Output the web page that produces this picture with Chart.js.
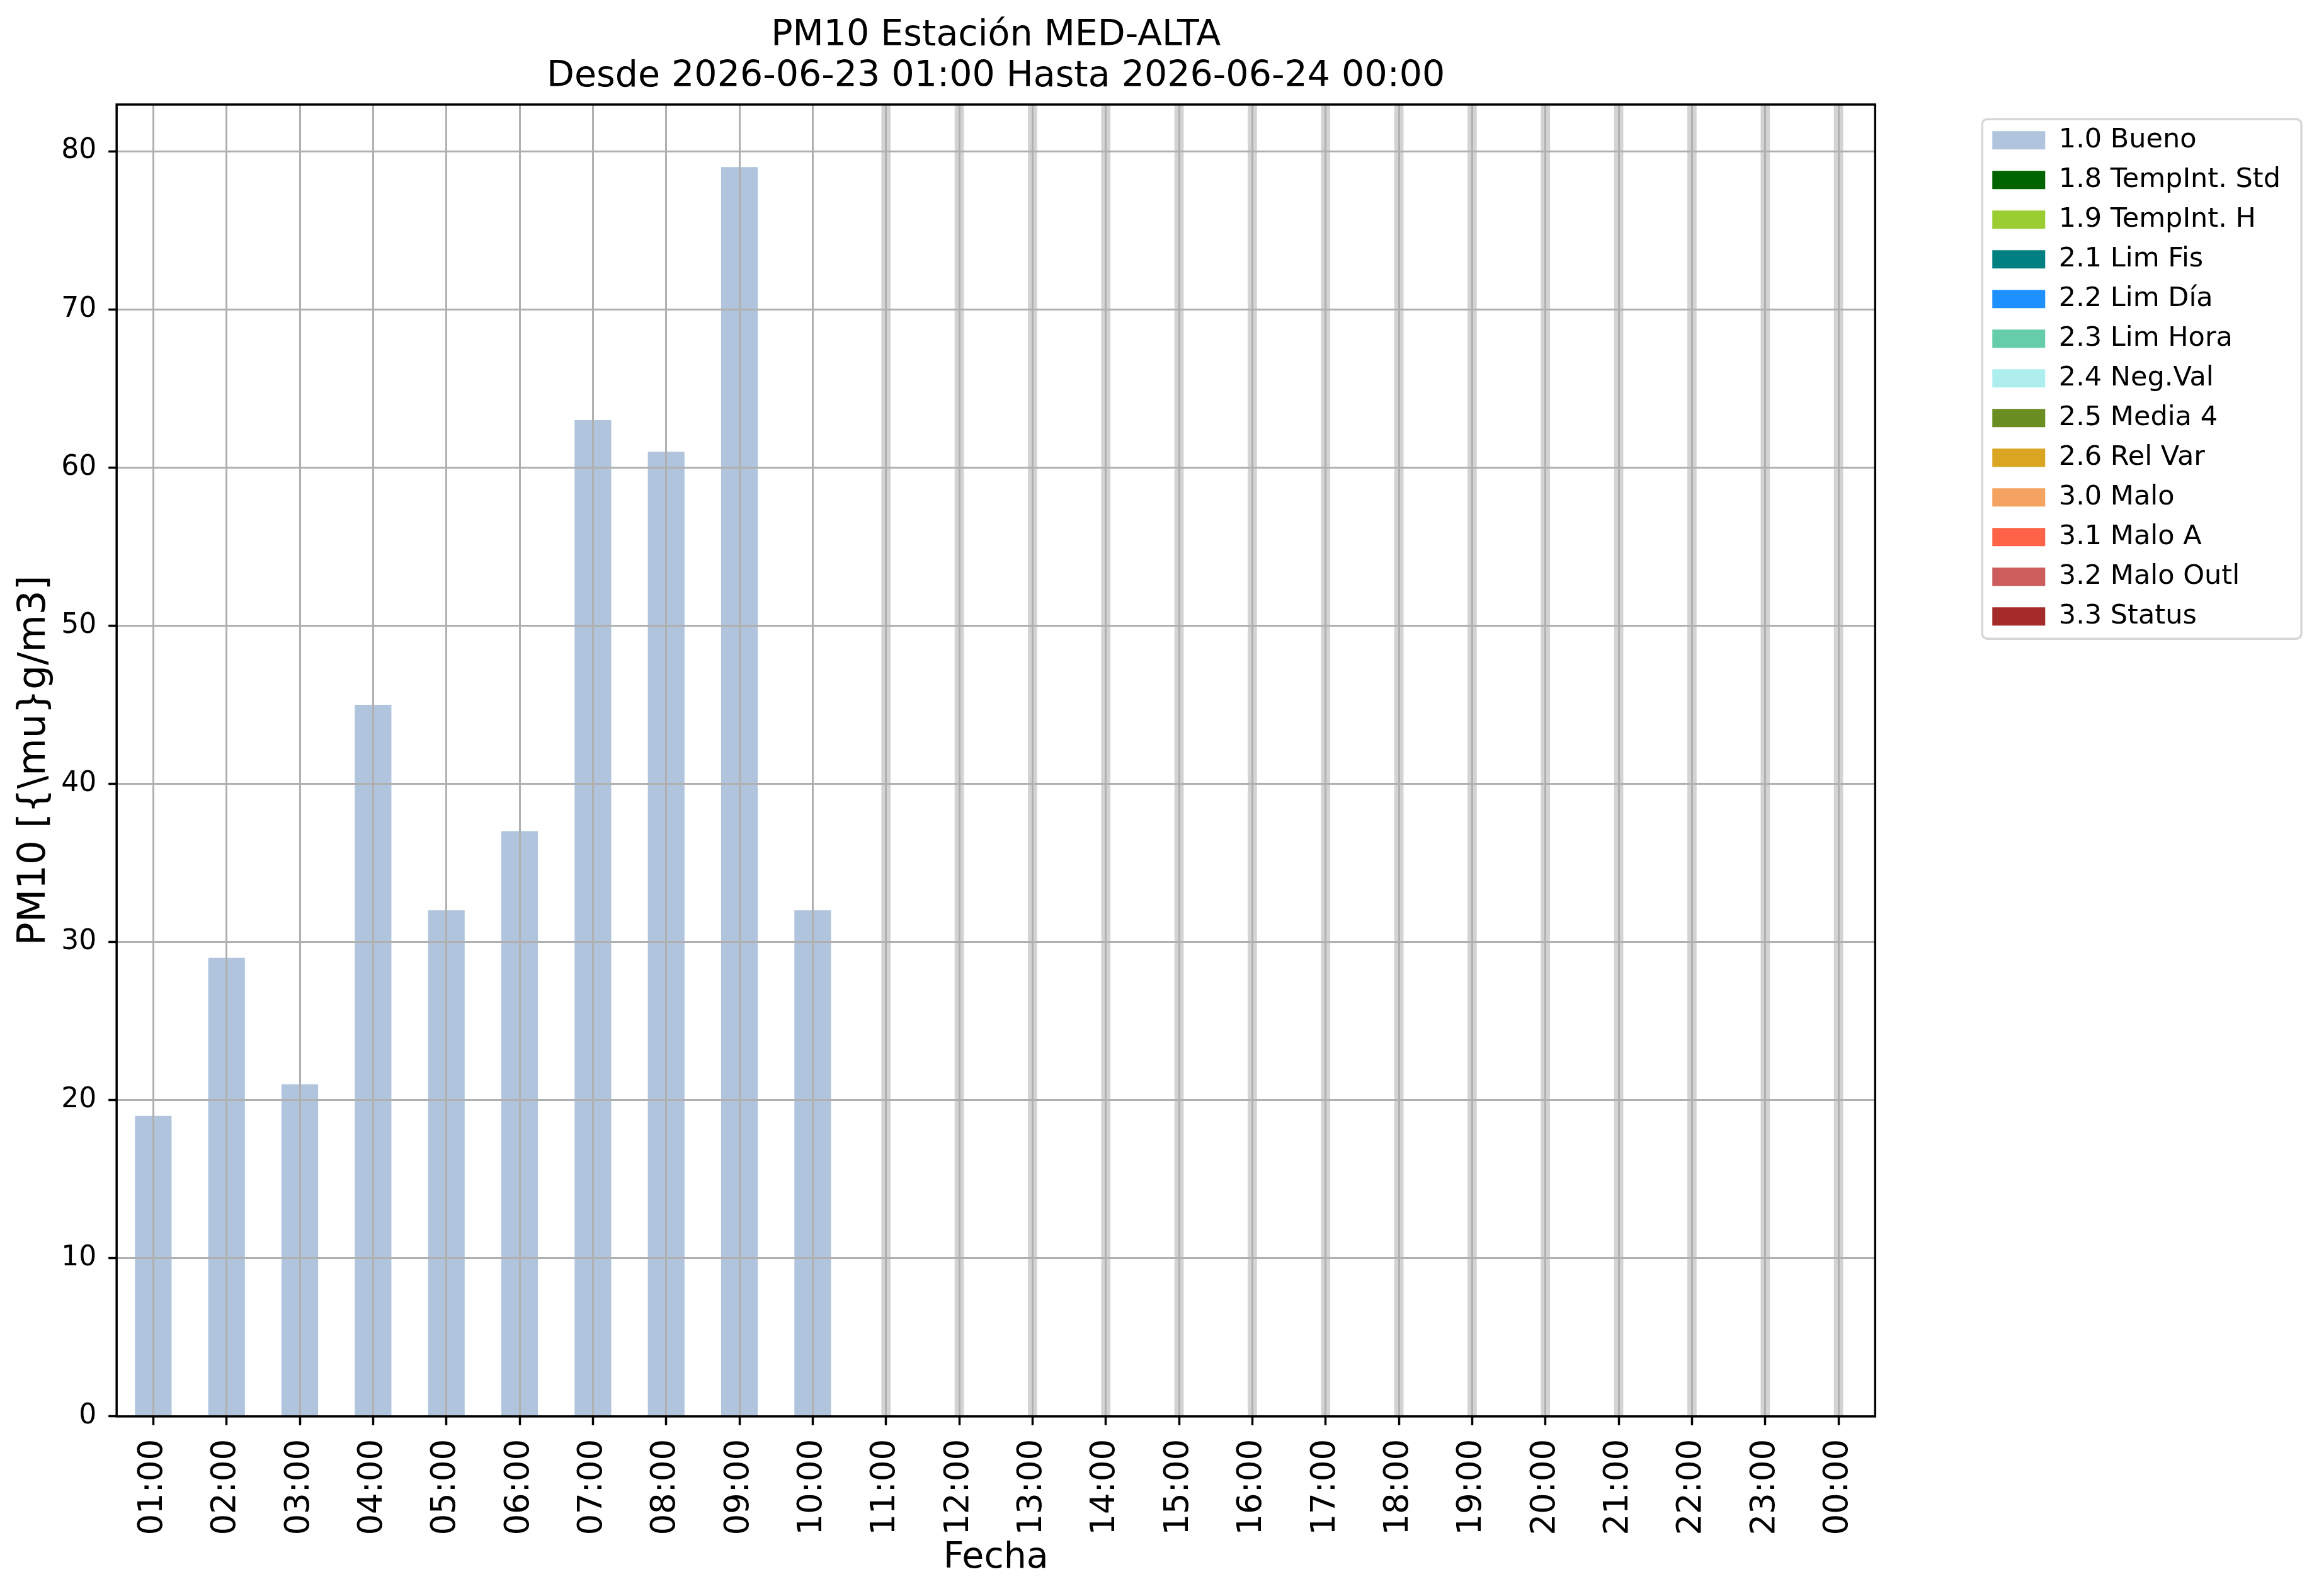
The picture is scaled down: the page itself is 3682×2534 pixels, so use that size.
<!DOCTYPE html>
<html lang="es">
<head>
<meta charset="utf-8">
<title>PM10 Estación MED-ALTA</title>
<script src="https://cdn.jsdelivr.net/npm/chart.js@4.4.1/dist/chart.umd.min.js"></script>
<style>
    body { margin: 0; background: #ffffff; }
    canvas { display: block; }
</style>
</head>
<body>
<canvas id="graficoPM10" width="3682" height="2534"></canvas>
<script>
// Datos del gráfico
const horas = ['01:00', '02:00', '03:00', '04:00', '05:00', '06:00', '07:00', '08:00', '09:00', '10:00', '11:00', '12:00',
    '13:00', '14:00', '15:00', '16:00', '17:00', '18:00', '19:00', '20:00', '21:00', '22:00', '23:00', '00:00'];

// Valores PM10 (flag 1.0 Bueno); las horas sin dato van en null
const valoresBueno = [19, 29, 21, 45, 32, 37, 63, 61, 79, 32, null, null,
    null, null, null, null, null, null, null, null, null, null, null, null];

// Etiquetas y colores de los flags
const flags = ['1.0 Bueno', '1.8 TempInt. Std', '1.9 TempInt. H', '2.1 Lim Fis', '2.2 Lim Día', '2.3 Lim Hora',
    '2.4 Neg.Val', '2.5 Media 4', '2.6 Rel Var', '3.0 Malo', '3.1 Malo A', '3.2 Malo Outl', '3.3 Status'];
const coloresFlags = ['#B0C4DE', '#006400', '#9ACD32', '#008080', '#1E90FF', '#66CDAA',
    '#AFEEEE', '#6B8E23', '#DAA520', '#F4A460', '#FF6347', '#CD5C5C', '#A52A2A'];

const ticksY = [0, 10, 20, 30, 40, 50, 60, 70, 80];
const maxY = 82.95;

const titulo = ['PM10 Estación MED-ALTA', 'Desde 2026-06-23 01:00 Hasta 2026-06-24 00:00'];

const fuente = 'DejaVu Sans';

// Solo el primer flag tiene datos, los demás quedan vacíos (solo leyenda)
const datasets = flags.map((flag, i) => ({
    label: flag,
    data: i === 0 ? valoresBueno : horas.map(() => null),
    backgroundColor: coloresFlags[i],
    borderWidth: 0,
    grouped: false,
    categoryPercentage: 1.0,
    barPercentage: 0.5
}));

// Franjas grises en las horas sin dato
const franjasSinDato = {
    id: 'franjasSinDato',
    beforeDatasetsDraw(chart) {
        const { ctx, chartArea, scales } = chart;
        const ancho = (scales.x.getPixelForValue(1) - scales.x.getPixelForValue(0)) * 0.126;
        ctx.save();
        ctx.fillStyle = '#d3d3d3';
        valoresBueno.forEach((v, i) => {
            if (v === null) {
                const x = scales.x.getPixelForValue(i);
                ctx.fillRect(x - ancho / 2, chartArea.top, ancho, chartArea.bottom - chartArea.top);
            }
        });
        ctx.restore();
    }
};

// Marco del área de gráfico y caja de la leyenda
const marcos = {
    id: 'marcos',
    afterDraw(chart) {
        const { ctx, chartArea } = chart;
        ctx.save();
        ctx.strokeStyle = '#000000';
        ctx.lineWidth = 3.5;
        ctx.strokeRect(chartArea.left, chartArea.top, chartArea.right - chartArea.left, chartArea.bottom - chartArea.top);

        const cajas = chart.legend.legendHitBoxes;
        if (cajas && cajas.length) {
            const izq = Math.min(...cajas.map(c => c.left)) - 16;
            const der = Math.max(...cajas.map(c => c.left + c.width)) + 33;
            const arriba = Math.min(...cajas.map(c => c.top)) - 12;
            const abajo = Math.max(...cajas.map(c => c.top + c.height)) + 14;
            ctx.strokeStyle = '#d6d6d6';
            ctx.lineWidth = 3.5;
            ctx.beginPath();
            ctx.roundRect(izq, arriba, der - izq, abajo - arriba, 8);
            ctx.stroke();
        }
        ctx.restore();
    }
};

const config = {
    type: 'bar',
    data: {
        labels: horas,
        datasets: datasets
    },
    options: {
        responsive: false,
        animation: false,
        devicePixelRatio: 1,
        layout: {
            padding: { top: 0, right: 51, bottom: 0, left: 0 }
        },
        plugins: {
            title: {
                display: true,
                text: titulo,
                fullSize: false,
                color: '#000000',
                font: { family: fuente, size: 57, weight: 'normal', lineHeight: 1.14 },
                padding: { top: 25, bottom: 11 }
            },
            legend: {
                display: true,
                position: 'right',
                align: 'start',
                fullSize: false,
                title: {
                    display: true,
                    text: '',
                    font: { family: fuente, size: 1 },
                    padding: { top: 6, bottom: 8 }
                },
                labels: {
                    color: '#000000',
                    font: { family: fuente, size: 43 },
                    boxWidth: 84,
                    boxHeight: 29,
                    padding: 20
                }
            },
            tooltip: { enabled: false }
        },
        scales: {
            x: {
                offset: true,
                grid: {
                    z: 1,
                    offset: false,
                    color: '#b0b0b0',
                    lineWidth: 3,
                    tickColor: '#000000',
                    tickLength: 14,
                    tickWidth: 3.5
                },
                border: { display: false },
                ticks: {
                    autoSkip: false,
                    maxRotation: 90,
                    minRotation: 90,
                    padding: 22,
                    color: '#000000',
                    font: { family: fuente, size: 53 }
                },
                title: {
                    display: true,
                    text: 'Fecha',
                    color: '#000000',
                    font: { family: fuente, size: 57 },
                    padding: { top: -20, bottom: 26 }
                }
            },
            y: {
                min: 0,
                max: maxY,
                afterBuildTicks: (escala) => {
                    escala.ticks = ticksY.map(v => ({ value: v }));
                },
                grid: {
                    z: 1,
                    color: '#b0b0b0',
                    lineWidth: 3,
                    tickColor: '#000000',
                    tickLength: 13,
                    tickWidth: 3.5
                },
                border: { display: false },
                ticks: {
                    padding: 19,
                    color: '#000000',
                    font: { family: fuente, size: 44 }
                },
                title: {
                    display: true,
                    text: 'PM10 [{\\mu}g/m3]',
                    color: '#000000',
                    font: { family: fuente, size: 61 },
                    padding: { top: 19, bottom: -14 }
                }
            },
            // eje vacío a la derecha, solo deja el hueco entre gráfico y leyenda
            separador: {
                type: 'linear',
                position: 'right',
                display: true,
                grid: { display: false },
                border: { display: false },
                ticks: { display: false },
                afterFit: (escala) => { escala.width = 166; }
            }
        }
    },
    plugins: [franjasSinDato, marcos]
};

const graficoPM10 = new Chart(document.getElementById('graficoPM10'), config);
</script>
</body>
</html>
